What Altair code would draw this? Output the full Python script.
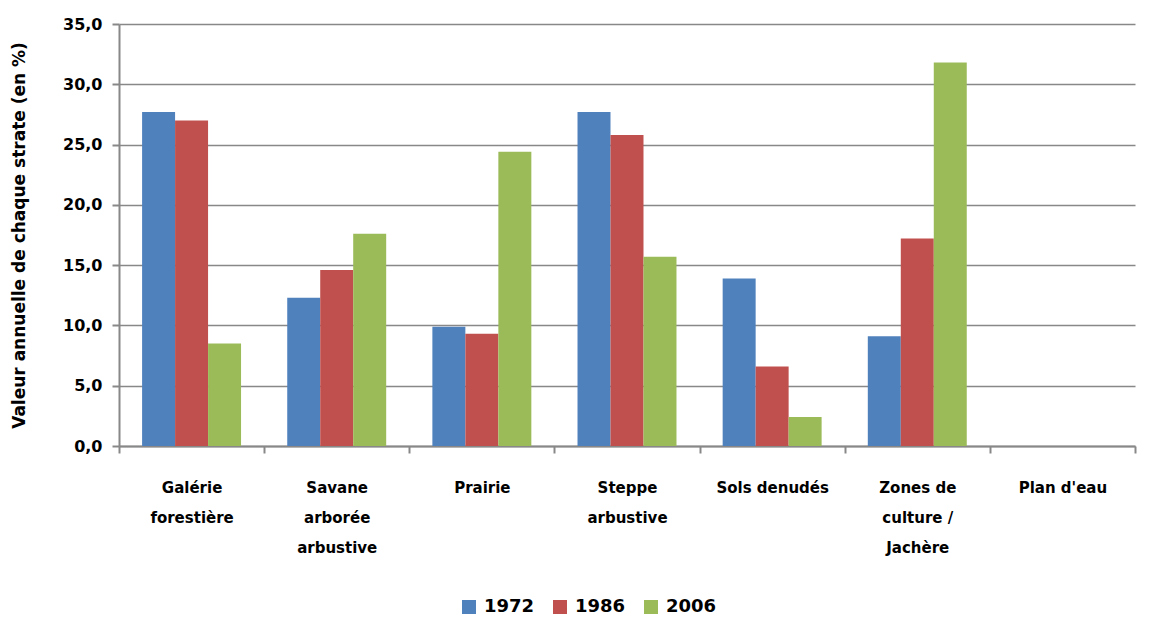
import altair as alt
import pandas as pd

categories = ["Galérie|forestière", "Savane|arborée|arbustive", "Prairie",
              "Steppe|arbustive", "Sols denudés", "Zones de|culture /|Jachère", "Plan d'eau"]
years = ["1972", "1986", "2006"]
v1972 = [27.7, 12.3, 9.9, 27.7, 13.9, 9.1, 0.0]
v1986 = [27.0, 14.6, 9.3, 25.8, 6.6, 17.2, 0.0]
v2006 = [8.5, 17.6, 24.4, 15.7, 2.4, 31.8, 0.0]
colors = ["#4F81BD", "#C0504D", "#9BBB59"]

rows = []
for y, vals in zip(years, [v1972, v1986, v2006]):
    for c, v in zip(categories, vals):
        rows.append({"cat": c, "year": y, "val": v})
df = pd.DataFrame(rows)

FONT = "DejaVu Sans"

chart = alt.Chart(df).mark_bar().encode(
    x=alt.X("cat:N", sort=categories, title=None,
            scale=alt.Scale(paddingInner=0, paddingOuter=0),
            axis=alt.Axis(labelAngle=0, tickBand="extent", labelPadding=27,
                          labelExpr="split(datum.label, '|')",
                          labelFont=FONT, labelFontSize=15, labelFontWeight="bold",
                          labelColor="black", labelLineHeight=30,
                          domainColor="#888888", domainWidth=2,
                          tickColor="#888888", tickSize=7, tickWidth=2,
                          labelBaseline="top")),
    xOffset=alt.XOffset("year:N", scale=alt.Scale(paddingOuter=0.7, paddingInner=0)),
    y=alt.Y("val:Q", title="Valeur annuelle de chaque strate (en %)",
            scale=alt.Scale(domain=[0, 35], nice=False),
            axis=alt.Axis(values=[0, 5, 10, 15, 20, 25, 30, 35],
                          labelExpr="replace(format(datum.value, '.1f'), '.', ',')",
                          labelFont=FONT, labelFontSize=16, labelFontWeight="bold",
                          labelColor="black", labelPadding=10,
                          titleFont=FONT, titleFontSize=17, titleFontWeight="bold",
                          titleColor="black", titlePadding=34,
                          domainColor="#888888", domainWidth=2,
                          tickColor="#888888", tickSize=7, tickWidth=2,
                          gridColor="#888888", gridWidth=1.5)),
    color=alt.Color("year:N", scale=alt.Scale(domain=years, range=colors),
                    legend=alt.Legend(orient="none", legendX=341, legendY=574,
                                      direction="horizontal", title=None,
                                      symbolType="square", symbolSize=196,
                                      symbolStrokeWidth=0, labelFont=FONT,
                                      labelFontSize=18, labelFontWeight="bold",
                                      labelColor="black", columnPadding=16,
                                      labelOffset=6)),
).properties(width=1016, height=422, background="white",
             padding={"left": 2, "top": 8, "right": 5, "bottom": 5})

chart = chart.configure_view(stroke=None)

chart.save("out.html", embed_options={"renderer": "svg", "actions": False})
